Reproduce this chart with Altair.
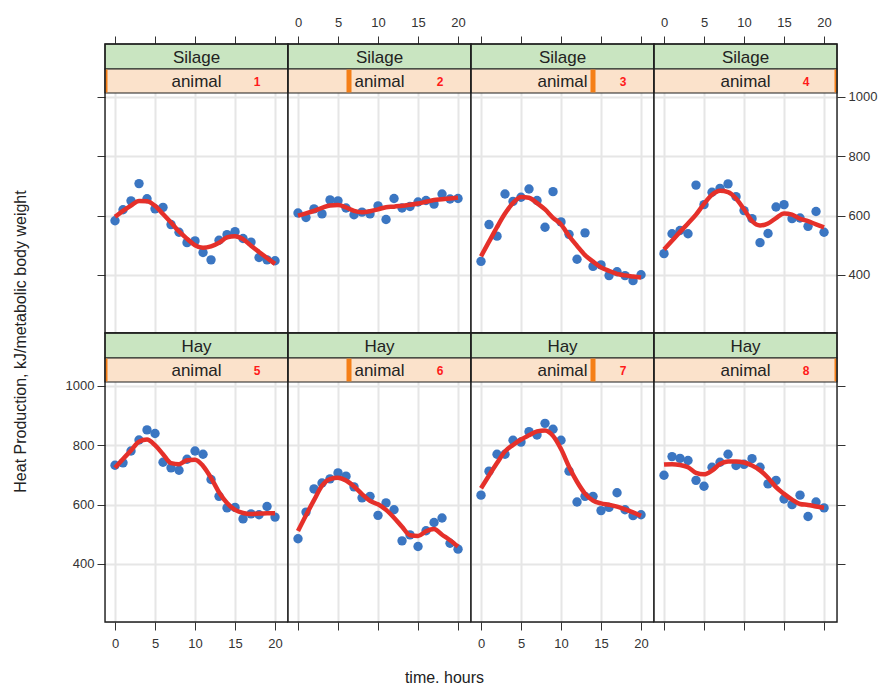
import altair as alt
import pandas as pd

hours = list(range(21))
diets = ["Silage", "Silage", "Silage", "Silage", "Hay", "Hay", "Hay", "Hay"]
animals = [1, 2, 3, 4, 5, 6, 7, 8]
a1 = [583, 620, 650, 708, 657, 623, 628, 570, 544, 509, 515, 476, 451, 517, 536, 546, 523, 511, 459, 451, 448]
a2 = [609, 594, 623, 606, 653, 650, 626, 603, 612, 606, 633, 587, 658, 626, 631, 646, 651, 639, 673, 656, 658]
a3 = [446, 570, 531, 673, 648, 662, 690, 651, 561, 681, 579, 537, 453, 542, 429, 434, 398, 411, 398, 381, 401]
a4 = [472, 539, 550, 539, 703, 637, 679, 692, 707, 664, 617, 590, 509, 540, 629, 637, 590, 592, 564, 614, 544]
a5 = [733, 741, 781, 818, 852, 840, 743, 724, 716, 753, 781, 770, 685, 628, 589, 591, 552, 569, 566, 594, 558]
a6 = [485, 575, 653, 673, 687, 707, 696, 660, 623, 628, 564, 606, 583, 478, 498, 459, 512, 540, 555, 470, 450]
a7 = [632, 713, 770, 770, 817, 811, 846, 835, 874, 854, 817, 713, 609, 628, 628, 580, 591, 640, 583, 563, 566]
a8 = [699, 762, 756, 749, 682, 662, 726, 743, 770, 732, 736, 755, 726, 670, 682, 619, 600, 632, 560, 609, 589]
series = [a1, a2, a3, a4, a5, a6, a7, a8]
x_ticks = [0, 5, 10, 15, 20]
y_ticks = [400, 600, 800, 1000]

W, H = 183, 289
S1, S2 = 25, 49  # strip boundaries (px from panel top)
FONT = "Liberation Sans"
GREEN = "#c9e5c1"
PEACH = "#fbe2cb"
MARK = "#f57f17"
BLUE = "#3b76c2"
RED = "#e5302a"
GRID = "#e6e6e6"
INK = "#333333"
EDGE = "#1e1e1e"

xscale = alt.Scale(domain=[-1.25, 21.62], nice=False, zero=False)
yscale = alt.Scale(domain=[204.5, 1178.6], nice=False, zero=False)


def panel(i):
    row, col = divmod(i, 4)
    df = pd.DataFrame({"hour": hours, "hp": series[i]})
    xkw = dict(values=x_ticks, tickSize=8, tickColor=INK, labelColor=INK, labelFontSize=13,
               labelPadding=7, domain=False, grid=True, gridColor=GRID, gridWidth=2,
               title=None, labelFont=FONT, format="d")
    if row == 0:
        xaxis = alt.Axis(orient="top", labels=(col in (1, 3)), **xkw)
    else:
        xaxis = alt.Axis(orient="bottom", labels=(col in (0, 2)), **xkw)
    ykw = dict(values=y_ticks, domain=False, grid=True, gridColor=GRID, gridWidth=2,
               tickColor=INK, labelColor=INK, labelFontSize=13, labelPadding=3,
               labelFont=FONT, format="d")
    if col == 0:
        if row == 1:
            yaxis = alt.Axis(orient="left", labels=True, tickSize=8,
                             title="Heat Production, kJ/metabolic body weight",
                             titleFontSize=16, titleFontWeight="normal", titleColor="#222222",
                             titleFont=FONT, titleX=-85, titleY=8, titleAngle=270,
                             titleAlign="center", titleBaseline="middle", **ykw)
        else:
            yaxis = alt.Axis(orient="left", labels=False, tickSize=8, title=None, **ykw)
    elif col == 3:
        yaxis = alt.Axis(orient="right", labels=(row == 0), tickSize=8, title=None, **ykw)
    else:
        yaxis = alt.Axis(orient="left", labels=False, ticks=False, title=None, **ykw)

    base = alt.Chart(df)
    pts = base.mark_circle(size=88, color=BLUE, opacity=1).encode(
        x=alt.X("hour:Q", scale=xscale, axis=xaxis),
        y=alt.Y("hp:Q", scale=yscale, axis=yaxis),
    )
    smooth = base.transform_loess("hour", "hp", bandwidth=0.35).mark_line(
        color=RED, strokeWidth=4.5, interpolate="monotone"
    ).encode(x=alt.X("hour:Q", scale=xscale), y=alt.Y("hp:Q", scale=yscale))

    sdf = pd.DataFrame({"diet": [diets[i]], "label": ["animal"], "num": [str(animals[i])]})
    sbase = alt.Chart(sdf)
    frame = sbase.mark_rect(fillOpacity=0, stroke=EDGE, strokeWidth=1.4).encode(
        x=alt.value(0), x2=alt.value(W), y=alt.value(0), y2=alt.value(H))
    g_rect = sbase.mark_rect(fill=GREEN, stroke=EDGE, strokeWidth=1.2).encode(
        x=alt.value(0), x2=alt.value(W), y=alt.value(0), y2=alt.value(S1))
    p_rect = sbase.mark_rect(fill=PEACH, stroke=EDGE, strokeWidth=1.2).encode(
        x=alt.value(0), x2=alt.value(W), y=alt.value(S1), y2=alt.value(S2))
    c = (animals[i] - 1) % 4 / 3 * W
    m_rect = sbase.mark_rect(fill=MARK).encode(
        x=alt.value(max(0.6, c - 2.5)), x2=alt.value(min(W - 0.6, c + 2.5)),
        y=alt.value(S1 + 0.6), y2=alt.value(S2 - 0.6))
    g_txt = sbase.mark_text(fontSize=17, font=FONT, color="#222222").encode(
        text="diet:N", x=alt.value(W / 2), y=alt.value(S1 / 2 + 1))
    p_txt = sbase.mark_text(fontSize=17, font=FONT, color="#222222").encode(
        text="label:N", x=alt.value(W / 2), y=alt.value((S1 + S2) / 2 + 1))
    n_txt = sbase.mark_text(fontSize=12, font=FONT, fontWeight="bold", color="#ff1a1a").encode(
        text="num:N", x=alt.value(152), y=alt.value((S1 + S2) / 2 + 1))
    return alt.layer(pts, smooth, g_rect, p_rect, m_rect, g_txt, p_txt, n_txt, frame).properties(
        width=W, height=H)


charts = [panel(i) for i in range(8)]
chart = alt.concat(
    *charts, columns=4, spacing=0, bounds="flush",
    title=alt.TitleParams("time. hours", orient="bottom", anchor="middle", fontSize=16,
                          fontWeight="normal", font=FONT, color="#222222", offset=19),
).properties(
    padding={"left": 3, "top": 7, "right": 5, "bottom": 2}
).configure_view(stroke=EDGE, strokeWidth=1.5).configure(font=FONT)

chart.save("out.html", embed_options={"renderer": "svg", "actions": False})
